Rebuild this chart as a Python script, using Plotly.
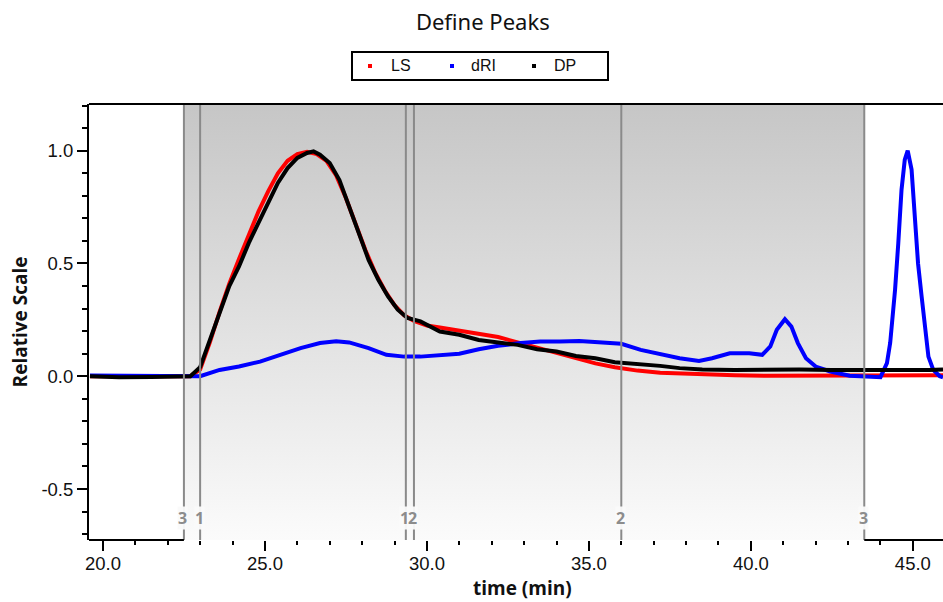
import plotly.graph_objects as go

# ---------------- data ----------------
ls_x = [19.6, 21.0, 22.0, 22.4, 22.7, 23.0, 23.3, 23.6, 23.9, 24.2, 24.5, 24.8, 25.1, 25.4,
        25.7, 26.0, 26.3, 26.6, 26.9, 27.2, 27.5, 27.8, 28.1, 28.4, 28.7, 29.0, 29.3, 29.6,
        30.0, 30.4, 31.0, 31.6, 32.2, 32.8, 33.4, 34.0, 34.6, 35.2, 35.8, 36.5, 37.2, 37.8,
        38.5, 39.5, 40.5, 41.5, 42.5, 43.5, 44.5, 45.5, 45.93]
ls_y = [0.0, 0.0, -0.003, -0.003, 0.0, 0.03, 0.15, 0.285, 0.41, 0.52, 0.63, 0.73, 0.82, 0.90,
        0.955, 0.985, 0.995, 0.985, 0.955, 0.89, 0.79, 0.67, 0.56, 0.46, 0.38, 0.315, 0.27, 0.245,
        0.225, 0.216, 0.203, 0.19, 0.174, 0.15, 0.127, 0.103, 0.078, 0.057, 0.04, 0.025, 0.016, 0.012,
        0.008, 0.004, 0.002, 0.002, 0.003, 0.003, 0.003, 0.004, 0.004]

dri_x = [19.6, 20.5, 21.5, 22.5, 23.0, 23.6, 24.2, 24.85, 25.45, 26.1, 26.7, 27.2, 27.6, 28.2,
         28.75, 29.3, 29.8, 30.4, 31.0, 31.6, 32.2, 32.9, 33.5, 34.1, 34.7, 35.3, 36.0, 36.6,
         37.2, 37.8, 38.4, 38.8, 39.35, 39.95, 40.35, 40.6, 40.8, 41.05, 41.25, 41.45, 41.7, 42.0,
         42.45, 43.05, 44.0, 44.2, 44.3, 44.45, 44.55, 44.65, 44.75, 44.84, 44.96, 45.06, 45.16,
         45.27, 45.37, 45.48, 45.63, 45.83, 45.93]
dri_y = [0.003, 0.002, 0.0, -0.002, 0.0, 0.028, 0.043, 0.065, 0.095, 0.125, 0.147, 0.155, 0.15, 0.125,
         0.095, 0.087, 0.087, 0.095, 0.10, 0.12, 0.135, 0.147, 0.154, 0.154, 0.156, 0.151, 0.144, 0.117,
         0.098, 0.08, 0.068, 0.08, 0.102, 0.102, 0.095, 0.132, 0.206, 0.253, 0.22, 0.147, 0.08, 0.043,
         0.021, 0.002, -0.004, 0.058, 0.148, 0.383, 0.59, 0.827, 0.96, 1.0, 0.916, 0.71, 0.50,
         0.354, 0.206, 0.087, 0.028, 0.0, -0.005]

dp_x = [19.6, 20.5, 21.5, 22.3, 22.7, 23.0, 23.3, 23.6, 23.9, 24.2, 24.5, 24.8, 25.1, 25.4,
        25.7, 26.0, 26.3, 26.5, 26.7, 27.0, 27.3, 27.6, 27.9, 28.2, 28.5, 28.8, 29.1, 29.4,
        29.8, 30.4, 31.0, 31.6, 32.2, 32.8, 33.4, 34.0, 34.6, 35.2, 35.8, 36.5, 37.2, 37.8,
        38.5, 39.5, 40.5, 41.5, 42.5, 43.5, 44.5, 45.5, 45.93]
dp_y = [0.0, -0.005, -0.003, -0.002, 0.0, 0.04, 0.16, 0.28, 0.40, 0.487, 0.59, 0.68, 0.77, 0.857,
        0.923, 0.968, 0.99, 0.997, 0.982, 0.945, 0.87, 0.75, 0.635, 0.516, 0.428, 0.354, 0.295, 0.258,
        0.243, 0.198, 0.184, 0.161, 0.15, 0.139, 0.12, 0.11, 0.09, 0.08, 0.062, 0.055, 0.046, 0.036,
        0.03, 0.028, 0.03, 0.03, 0.028, 0.028, 0.025, 0.028, 0.03]

boundary_x = [22.5, 23.0, 29.35, 29.6, 36.0, 43.5]
boundary_labels = ["3", "1", "1", "2", "2", "3"]

series_names = ["LS", "dRI", "DP"]
series_colors = ["#ff0000", "#0000ff", "#000000"]

y_tickvals = [-0.5, 0.0, 0.5, 1.0]
y_ticktext = ["-0.5", "0.0", "0.5", "1.0"]

X_RANGE = [19.57, 45.93]
Y_RANGE = [-0.726, 1.207]

# plot-area geometry in pixels (for placing the hand-drawn legend and titles)
W, H = 943, 602
ML, MR, MT, MB = 89, 0, 104, 62
PW, PH = W - ML - MR, H - MT - MB


def px_to_paper_x(px):
    return (px - ML) / PW


def px_to_paper_y(py):
    return (H - MB - py) / PH


# ---------------- figure ----------------
fig = go.Figure()

# shaded (gradient) region spanning the peak limits
x0, x1 = min(boundary_x), max(boundary_x)
fig.add_trace(go.Scatter(
    x=[x0, x1, x1, x0, x0], y=[Y_RANGE[0], Y_RANGE[0], Y_RANGE[1], Y_RANGE[1], Y_RANGE[0]],
    mode="lines", line=dict(width=0), fill="toself",
    fillgradient=dict(type="vertical", colorscale=[[0, "#fbfbfb"], [1, "#c6c6c6"]]),
    showlegend=False, hoverinfo="skip"))

for xs, ys, name, col in zip([ls_x, dri_x, dp_x], [ls_y, dri_y, dp_y], series_names, series_colors):
    fig.add_trace(go.Scatter(x=xs, y=ys, mode="lines", line=dict(color=col, width=4),
                             name=name, showlegend=False))

shapes = []
for bx in boundary_x:
    shapes.append(dict(type="line", xref="x", yref="paper", x0=bx, x1=bx, y0=0, y1=1,
                       line=dict(color="#8a8a8a", width=2), layer="above"))
# top frame line
shapes.append(dict(type="line", xref="paper", yref="paper", x0=0, x1=1, y0=1, y1=1,
                   line=dict(color="#000000", width=2), layer="above"))
# bottom axis line, only outside the shaded region
shapes.append(dict(type="line", xref="x", yref="paper", x0=X_RANGE[0], x1=x0, y0=0, y1=0,
                   line=dict(color="#000000", width=2), layer="above"))
shapes.append(dict(type="line", xref="x", yref="paper", x0=x1, x1=X_RANGE[1], y0=0, y1=0,
                   line=dict(color="#000000", width=2), layer="above"))

# hand-drawn legend box
shapes.append(dict(type="rect", xref="paper", yref="paper",
                   x0=px_to_paper_x(352), x1=px_to_paper_x(608),
                   y0=px_to_paper_y(80), y1=px_to_paper_y(52),
                   line=dict(color="#000000", width=2), fillcolor="white", layer="above"))
annotations = []
leg_marker_px = [370, 452, 534]
leg_text_px = [389, 469, 552]
leg_y = 66
for name, col, mx, tx in zip(series_names, series_colors, leg_marker_px, leg_text_px):
    shapes.append(dict(type="rect", xref="paper", yref="paper",
                       x0=px_to_paper_x(mx - 2), x1=px_to_paper_x(mx + 2),
                       y0=px_to_paper_y(leg_y + 2), y1=px_to_paper_y(leg_y - 2),
                       line=dict(width=0), fillcolor=col, layer="above"))
    annotations.append(dict(x=px_to_paper_x(tx), xref="paper", y=px_to_paper_y(leg_y), yref="paper",
                            text=name, showarrow=False, xanchor="left", yanchor="middle",
                            font=dict(family="Liberation Sans", size=16, color="#111111")))

for bx, lab in zip(boundary_x, boundary_labels):
    annotations.append(dict(x=bx, xref="x", y=px_to_paper_y(518), yref="paper", text="<b>%s</b>" % lab,
                            showarrow=False, xshift=-1, yanchor="middle",
                            font=dict(family="Open Sans", size=16, color="#8c8c8c"),
                            bgcolor="rgba(250,250,250,0.95)", borderpad=0))

# x-axis title
annotations.append(dict(x=px_to_paper_x(522), xref="paper", y=px_to_paper_y(588), yref="paper",
                        text="<b>time (min)</b>", showarrow=False, xanchor="center", yanchor="middle",
                        font=dict(family="Open Sans", size=19, color="#111111")))

fig.update_layout(
    width=W, height=H,
    margin=dict(l=ML, r=MR, t=MT, b=MB),
    paper_bgcolor="white", plot_bgcolor="white",
    showlegend=False,
    title=dict(text="Define Peaks", x=0.512, xanchor="center", y=1 - 22 / H, yanchor="middle",
               font=dict(family="Noto Sans", size=22, color="#111111")),
    shapes=shapes, annotations=annotations,
    xaxis=dict(range=X_RANGE, showgrid=False, zeroline=False, showline=False,
               dtick=5, tick0=20, tickformat=".1f",
               ticks="outside", ticklen=10, tickwidth=1.5, tickcolor="#000000",
               minor=dict(dtick=1, ticks="outside", ticklen=4, tickwidth=1.5, tickcolor="#000000"),
               tickfont=dict(family="Liberation Sans", size=18.5, color="#111111"),
               ticklabelstandoff=-3),
    yaxis=dict(range=Y_RANGE, showgrid=False, zeroline=False, showline=True,
               linecolor="#000000", linewidth=2,
               tickvals=y_tickvals, ticktext=y_ticktext,
               ticks="outside", ticklen=10, tickwidth=1.5, tickcolor="#000000",
               minor=dict(dtick=0.1, tick0=0, ticks="outside", ticklen=5, tickwidth=1.5,
                          tickcolor="#000000"),
               tickfont=dict(family="Liberation Sans", size=18.5, color="#111111"),
               title=dict(text="<b>Relative Scale</b>", standoff=9,
                          font=dict(family="Open Sans", size=19, color="#111111"))),
)

fig.write_html("out.html", config={"displayModeBar": False},
               post_script="document.body.style.margin='0';document.body.style.overflow='hidden';")
